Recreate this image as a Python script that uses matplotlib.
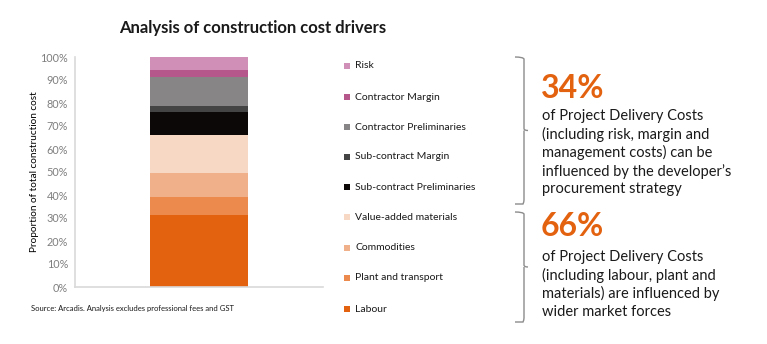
import matplotlib
matplotlib.use("Agg")
import matplotlib.pyplot as plt
from matplotlib.patches import Rectangle
from matplotlib.path import Path
from matplotlib.patches import PathPatch
from matplotlib.ticker import PercentFormatter

plt.rcParams['font.family'] = ['Lato', 'DejaVu Sans']

categories = ["Labour", "Plant and transport", "Commodities", "Value-added materials",
              "Sub-contract Preliminaries", "Sub-contract Margin", "Contractor Preliminaries",
              "Contractor Margin", "Risk"]
values = [0.315, 0.075, 0.105, 0.165, 0.10, 0.025, 0.13, 0.03, 0.055]
colors = ["#E36210", "#EB8A4C", "#F0B089", "#F7D8C4", "#0C0807", "#444444",
          "#878585", "#B5578A", "#D08FB6"]
yticks = [0, 0.1, 0.2, 0.3, 0.4, 0.5, 0.6, 0.7, 0.8, 0.9, 1.0]

W, H = 767, 344
fig = plt.figure(figsize=(W / 100, H / 100), dpi=100)

def fx(x):
    return x / W

def fy(y):
    return 1 - y / H

ax = fig.add_axes([fx(75), fy(287), fx(323) - fx(75), fy(57) - fy(287)])
bottom = 0
for v, c in zip(values, colors):
    ax.bar([0], [v], bottom=bottom, width=0.395, color=c, linewidth=0)
    bottom += v
ax.set_xlim(-0.5, 0.5)
ax.set_ylim(0, 1)
ax.set_yticks(yticks)
ax.yaxis.set_major_formatter(PercentFormatter(1.0, decimals=0))
ax.tick_params(axis='y', length=0, labelsize=7.8, labelcolor="#7f7f7f", pad=5)
ax.set_xticks([])
for s in ["top", "right"]:
    ax.spines[s].set_visible(False)
for s in ["left", "bottom"]:
    ax.spines[s].set_color("#d9d9d9")
    ax.spines[s].set_linewidth(1.2)
ax.set_ylabel("Proportion of total construction cost", fontsize=7.2, color="black", labelpad=1)

# Title
fig.text(fx(253), fy(28), "Analysis of construction cost drivers", ha="center", va="center",
         fontsize=12, fontweight="bold", color="#1a1a1a")

# Legend (top to bottom: reversed order)
leg_y = [66, 97, 127, 157, 187, 217, 248, 278, 309]
for i, (lab, c) in enumerate(zip(categories[::-1], colors[::-1])):
    y = leg_y[i]
    fig.add_artist(Rectangle((fx(344), fy(y + 3)), fx(6), 6 / H, transform=fig.transFigure,
                             facecolor=c, edgecolor="none"))
    fig.text(fx(355), fy(y), lab, ha="left", va="center", fontsize=7.5, color="#1a1a1a")

# Braces
def brace(top, bot, xl=515, xr=524):
    mid = (top + bot) / 2
    verts = [(xl, top), (xr - 1, top), (xr, top + 2), (xr, top + 4),
             (xr, mid - 2), (xr, mid), (xr + 4, mid), (xr, mid), (xr, mid + 2),
             (xr, bot - 4), (xr, bot - 2), (xr - 1, bot), (xl, bot)]
    codes = [Path.MOVETO, Path.CURVE3, Path.CURVE3, Path.LINETO,
             Path.LINETO, Path.CURVE3, Path.LINETO, Path.MOVETO, Path.CURVE3,
             Path.LINETO, Path.CURVE3, Path.CURVE3, Path.LINETO]
    verts = [(fx(x), fy(y)) for x, y in verts]
    p = PathPatch(Path(verts, codes), transform=fig.transFigure, facecolor="none",
                  edgecolor="#8c8c8c", linewidth=1.0)
    fig.add_artist(p)

brace(57, 204)
brace(212, 322)

orange = "#E36210"
fig.text(fx(541), fy(88), "34%", ha="left", va="center", fontsize=23, fontweight="bold", color=orange)
fig.text(fx(542), fy(109), "of Project Delivery Costs\n(including risk, margin and\nmanagement costs) can be\ninfluenced by the developer\u2019s\nprocurement strategy",
         ha="left", va="top", fontsize=10.5, color="#1a1a1a", linespacing=1.3)
fig.text(fx(541), fy(227), "66%", ha="left", va="center", fontsize=23, fontweight="bold", color=orange)
fig.text(fx(542), fy(250), "of Project Delivery Costs\n(including labour, plant and\nmaterials) are influenced by\nwider market forces",
         ha="left", va="top", fontsize=10.5, color="#1a1a1a", linespacing=1.3)

fig.text(fx(31), fy(309), "Source: Arcadis. Analysis excludes professional fees and GST", ha="left", va="center",
         fontsize=5.5, color="#1a1a1a")

fig.savefig("out.png", dpi=100, facecolor="white")
